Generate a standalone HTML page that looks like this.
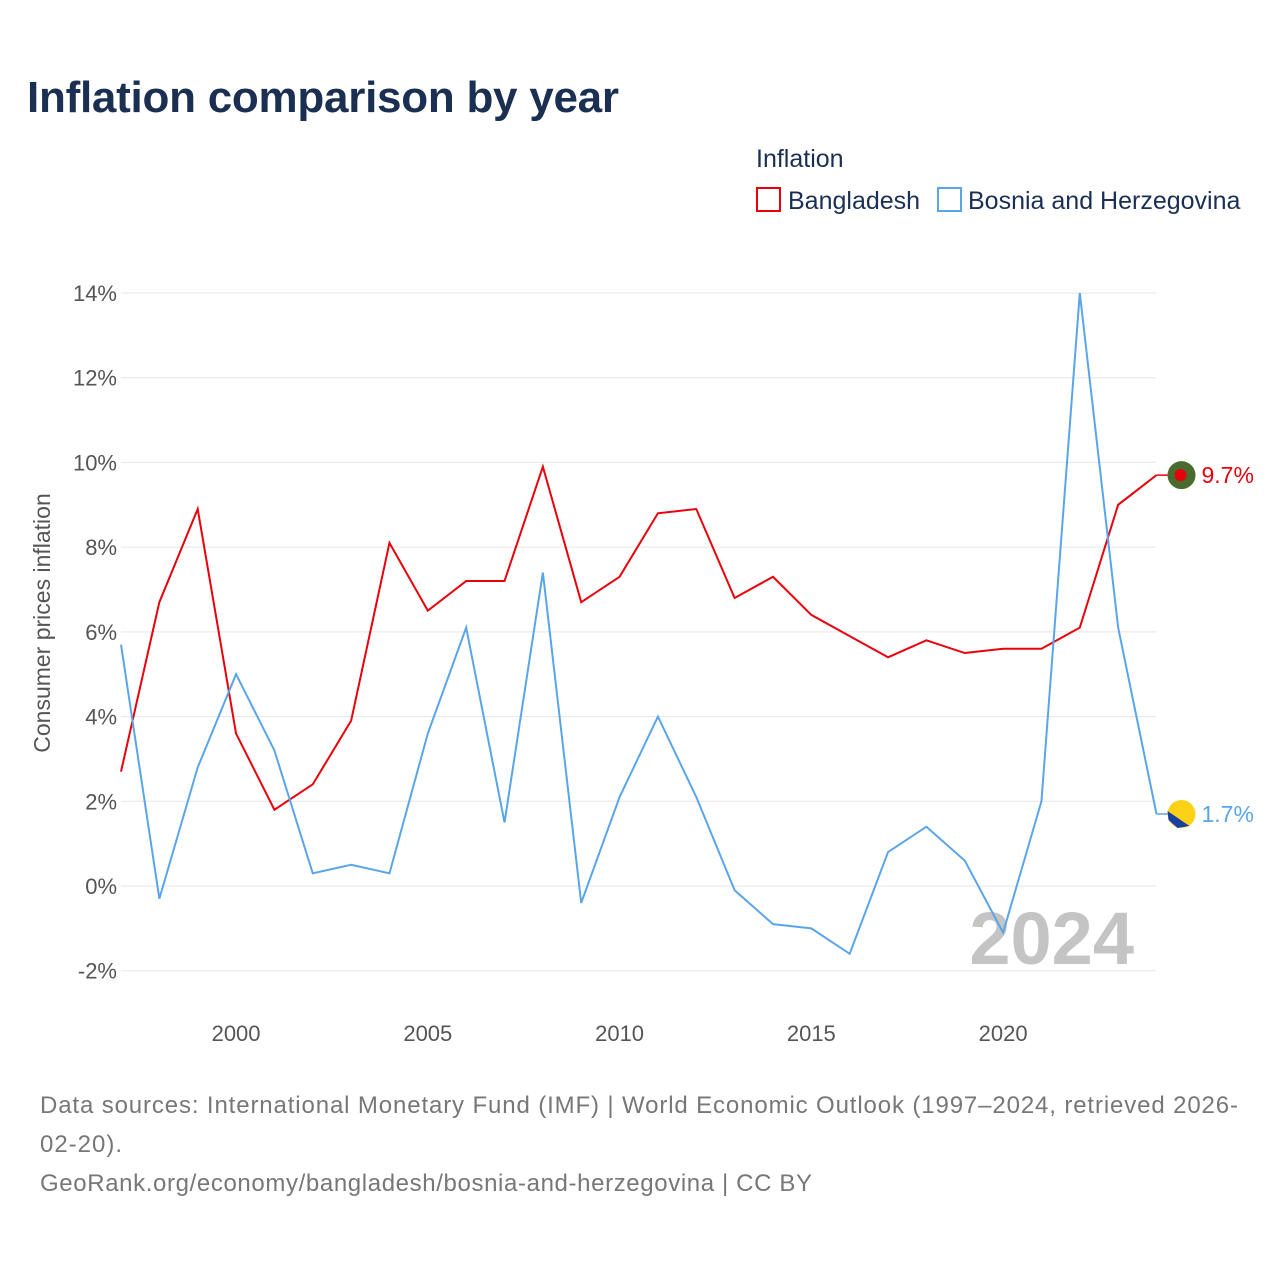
<!DOCTYPE html>
<html><head><meta charset="utf-8"><style>
body{margin:0;background:#fff;font-family:"Liberation Sans",sans-serif;}
#wrap{position:relative;width:1280px;height:1280px;}
</style></head><body><div id="wrap">
<svg id="svg" width="1280" height="1280" xmlns="http://www.w3.org/2000/svg">
<text x="27" y="112" font-size="44" font-weight="bold" fill="#1b2f52" textLength="592">Inflation comparison by year</text>
<text x="756" y="167" font-size="25" fill="#1b2f52">Inflation</text>
<g><rect x="757" y="188" width="23" height="23" fill="none" stroke="#e8000b" stroke-width="2"/><text x="788" y="209" font-size="25" fill="#1b2f52">Bangladesh</text></g>
<g><rect x="938" y="188" width="23" height="23" fill="none" stroke="#5aa5ea" stroke-width="2"/><text x="968" y="209" font-size="25" fill="#1b2f52">Bosnia and Herzegovina</text></g>
<g id="grid"></g><g id="axes"></g>
<text x="1134" y="964" font-size="74" font-weight="bold" fill="#c4c4c4" text-anchor="end">2024</text>
<text transform="translate(50,623) rotate(-90)" font-size="23" fill="#555" text-anchor="middle">Consumer prices inflation</text>
<g id="series"></g>
<text x="40" y="1113" font-size="24" fill="#777" textLength="1198">Data sources: International Monetary Fund (IMF) | World Economic Outlook (1997–2024, retrieved 2026-</text>
<text x="40" y="1152" font-size="24" fill="#777" textLength="82">02-20).</text>
<text x="40" y="1191" font-size="24" fill="#777" textLength="772">GeoRank.org/economy/bangladesh/bosnia-and-herzegovina | CC BY</text>
</svg></div>
<script>
const years=[1997,1998,1999,2000,2001,2002,2003,2004,2005,2006,2007,2008,2009,2010,2011,2012,2013,2014,2015,2016,2017,2018,2019,2020,2021,2022,2023,2024];
const bangladesh=[2.7,6.7,8.9,3.6,1.8,2.4,3.9,8.1,6.5,7.2,7.2,9.9,6.7,7.3,8.8,8.9,6.8,7.3,6.4,5.9,5.4,5.8,5.5,5.6,5.6,6.1,9.0,9.7];
const bosnia=[5.7,-0.3,2.8,5.0,3.2,0.3,0.5,0.3,3.6,6.1,1.5,7.4,-0.4,2.1,4.0,2.1,-0.1,-0.9,-1.0,-1.6,0.8,1.4,0.6,-1.1,2.0,14.0,6.1,1.7];
const yTicks=[-2,0,2,4,6,8,10,12,14];
const xTicks=[2000,2005,2010,2015,2020];
const NS="http://www.w3.org/2000/svg";
function xs(y){return 121+(y-1997)*(1156.5-121)/27;}
function ys(v){return 886-v*(886-293)/14;}
function mk(t,a,p){const e=document.createElementNS(NS,t);for(const k in a)e.setAttribute(k,a[k]);p.appendChild(e);return e;}
const grid=document.getElementById('grid'),axes=document.getElementById('axes'),ser=document.getElementById('series');
yTicks.forEach(v=>{
 const l=mk('line',{x1:121,x2:1156,y1:ys(v),y2:ys(v),stroke:'#e6e6e6','stroke-width':1},grid);
 
 
 const t=mk('text',{x:117,y:ys(v)+8,'font-size':22,fill:'#555','text-anchor':'end'},axes);t.textContent=v+'%';
 
 
});
xTicks.forEach(v=>{
 const t=mk('text',{x:xs(v),y:1041,'font-size':22,fill:'#555','text-anchor':'middle'},axes);t.textContent=v;
 
 
});
function line(vals,col,name){
 const p=mk('polyline',{points:vals.map((v,i)=>xs(years[i])+','+ys(v)).join(' '),fill:'none',stroke:col,'stroke-width':2},ser);
 
 
 const lv=vals[vals.length-1],ly=ys(lv),lx=xs(years[years.length-1]);
 mk('line',{x1:lx,x2:lx+12,y1:ly,y2:ly,stroke:col,'stroke-width':1.5},ser);
 return [lx+25,ly,lv];
}
let [bx,by,bv]=line(bangladesh,'#e8000b','line-bangladesh');
let c=mk('circle',{cx:bx,cy:by,r:14,fill:'#4a6b30'},ser);


mk('circle',{cx:bx-1,cy:by,r:6,fill:'#e8000b'},ser);
let t=mk('text',{x:bx+20,y:by+8,'font-size':23,fill:'#e8000b'},ser);t.textContent=bv+'%';


let [hx,hy,hv]=line(bosnia,'#5aa5ea','line-bosnia');
c=mk('circle',{cx:hx,cy:hy,r:14,fill:'#fcd116'},ser);


mk('path',{d:`M${hx-14},${hy-3} L${hx+8},${hy+12} L${hx-4},${hy+14} L${hx-13},${hy+6} Z`,fill:'#1840a0'},ser);
t=mk('text',{x:hx+20,y:hy+8,'font-size':23,fill:'#5aa5ea'},ser);t.textContent=hv+'%';


</script></body></html>
